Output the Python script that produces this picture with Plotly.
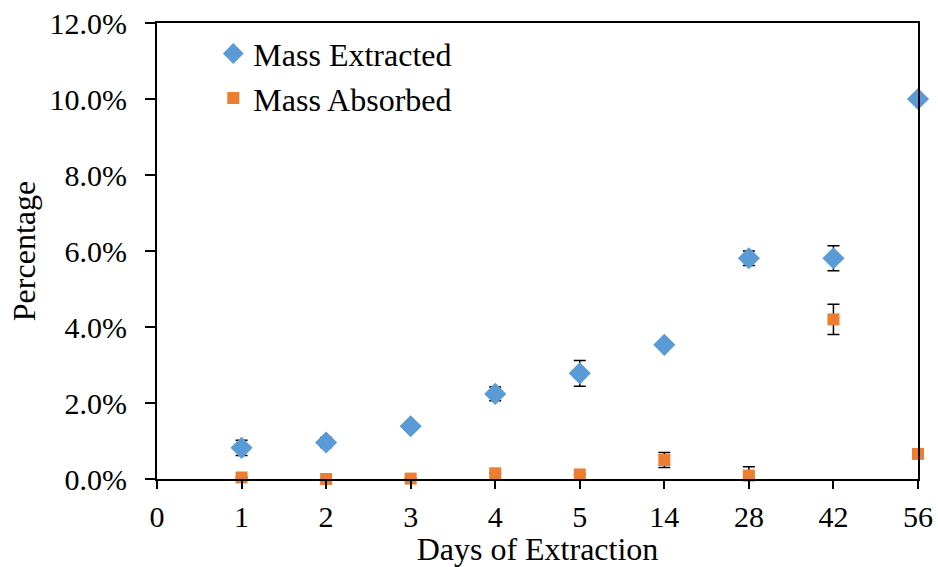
import plotly.graph_objects as go

# Sampling days (evenly spaced categories on the x axis)
day_labels = ["0", "1", "2", "3", "4", "5", "14", "28", "42", "56"]
days = ["1", "2", "3", "4", "5", "14", "28", "42", "56"]

# Mass extracted (fraction) and its standard deviation
mass_extracted = [0.0082, 0.0096, 0.0139, 0.0224, 0.0278, 0.0353, 0.0581, 0.0581, 0.1000]
extracted_err = [0.0020, 0.0013, 0.0004, 0.0018, 0.0034, 0.0003, 0.0019, 0.0033, 0.0]

# Mass absorbed (fraction) and its standard deviation (lower bars stop at 0%)
mass_absorbed = [0.0004, 0.0000, 0.0001, 0.0015, 0.0012, 0.0050, 0.0009, 0.0420, 0.0066]
absorbed_err_plus = [0.0, 0.0, 0.0, 0.0, 0.0, 0.0020, 0.0023, 0.0040, 0.0]
absorbed_err_minus = [0.0, 0.0, 0.0, 0.0, 0.0, 0.0020, 0.0009, 0.0040, 0.0]

BLUE = "#5B9BD5"
ORANGE = "#ED7D31"
FONT = "Liberation Serif, Times New Roman, serif"

fig = go.Figure()
fig.add_trace(go.Scatter(
    x=days, y=mass_extracted, mode="markers", name="Mass Extracted",
    marker=dict(symbol="diamond", size=17, color=BLUE),
    error_y=dict(type="data", array=extracted_err, color="black", thickness=1.5, width=6),
    cliponaxis=False,
))
fig.add_trace(go.Scatter(
    x=days, y=mass_absorbed, mode="markers", name="Mass Absorbed",
    marker=dict(symbol="square", size=12, color=ORANGE),
    error_y=dict(type="data", symmetric=False, array=absorbed_err_plus,
                 arrayminus=absorbed_err_minus, color="black", thickness=1.5, width=6),
    cliponaxis=False,
))

fig.update_layout(
    width=938, height=567,
    margin=dict(l=157, r=20, t=23, b=88, autoexpand=False),
    paper_bgcolor="white", plot_bgcolor="white",
    font=dict(family=FONT, size=32, color="black"),
    showlegend=True,
    legend=dict(x=0.074, y=0.993, xanchor="left", yanchor="top",
                bgcolor="rgba(0,0,0,0)", font=dict(size=32), itemwidth=30),
    xaxis=dict(
        type="category", categoryorder="array", categoryarray=day_labels,
        range=[0, 9], showgrid=False, zeroline=False, automargin=False,
        showline=True, linecolor="black", linewidth=2, mirror=True,
        ticks="outside", ticklen=8, tickcolor="black", tickwidth=1.5,
        tickfont=dict(size=30), ticklabelstandoff=2,
        title=dict(text="Days of Extraction", font=dict(size=32), standoff=6),
    ),
    yaxis=dict(
        range=[0, 0.12], dtick=0.02, tickformat=".1%",
        showgrid=False, zeroline=False, automargin=False,
        showline=True, linecolor="black", linewidth=2, mirror=True,
        ticks="outside", ticklen=10, tickcolor="black", tickwidth=1.5,
        tickfont=dict(size=30), ticklabelstandoff=12,
        title=dict(text="Percentage", font=dict(size=32), standoff=4),
    ),
)

fig.write_html("out.html")
